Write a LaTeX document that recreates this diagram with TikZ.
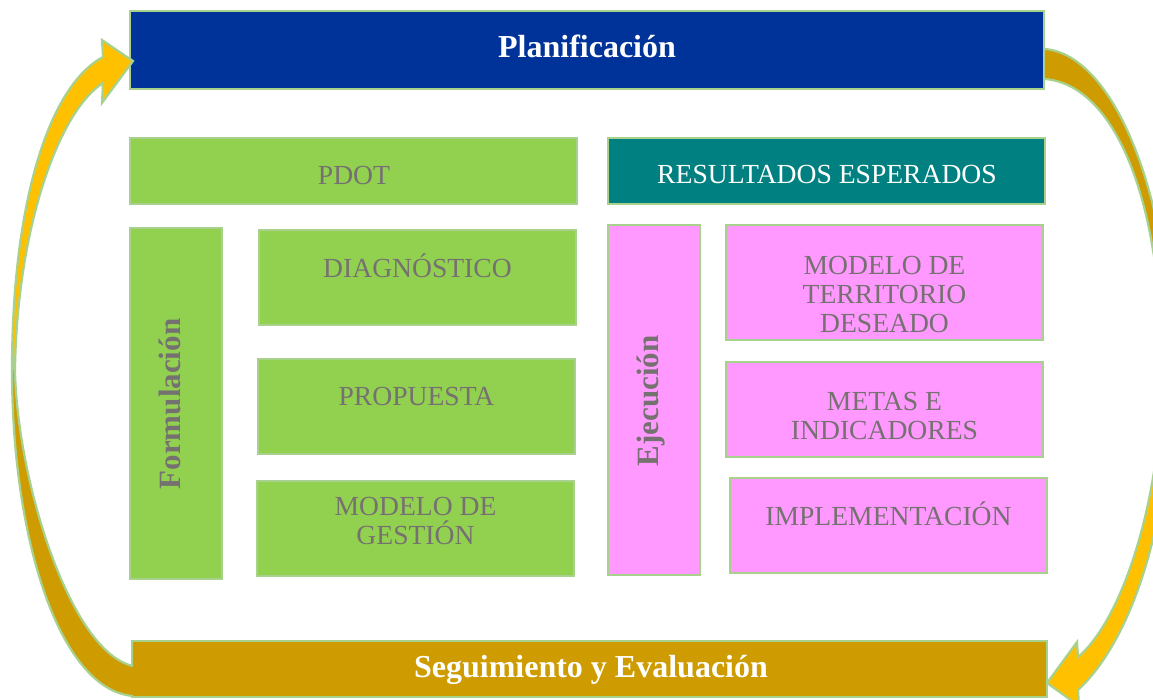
\documentclass[tikz,border=0pt]{standalone}
\usepackage{fontspec}
\setmainfont{Liberation Serif}
\usetikzlibrary{calc}
\definecolor{planblue}{RGB}{0,51,153}
\definecolor{lgreen}{RGB}{146,208,80}
\definecolor{tealbox}{RGB}{0,128,128}
\definecolor{pinkbox}{RGB}{255,153,255}
\definecolor{goldd}{RGB}{206,155,0}
\definecolor{goldb}{RGB}{255,192,0}
\definecolor{edgeg}{RGB}{169,209,142}
\definecolor{txtg}{RGB}{118,113,113}
\tikzset{
  box/.style={draw=edgeg, line width=1.2pt, inner sep=0pt, outer sep=0pt, anchor=north west},
  lbl/.style={text=txtg, inner sep=0pt, align=center, font=\fontsize{27.6}{29}\selectfont},
  wlbl/.style={text=white, inner sep=0pt, align=center, font=\fontsize{27.6}{29}\selectfont},
  blbl/.style={inner sep=0pt, font=\fontsize{32}{34}\selectfont\bfseries},
  vlbl/.style={inner sep=0pt, text=txtg, rotate=90, anchor=base, font=\fontsize{31}{33}\selectfont\bfseries},
  arrowline/.style={draw=edgeg, line width=2.2pt, line join=miter},
}
\begin{document}
\begin{tikzpicture}[x=1pt,y=-1pt]
\useasboundingbox (0,0) rectangle (1153,700);
\clip (0,0) rectangle (1153,700);
\fill[white] (0,0) rectangle (1153,700);

% main boxes
\node[box, fill=planblue, minimum width=914pt, minimum height=78pt] (plan) at (130,11) {};
\node[box, fill=goldd, minimum width=915pt, minimum height=56pt] (seg) at (132,641) {};

\node[box, fill=lgreen, minimum width=447pt, minimum height=66pt] (pdot) at (130,138) {};
\node[box, fill=tealbox, minimum width=437pt, minimum height=66pt] (res) at (608,138) {};

\node[box, fill=lgreen, minimum width=92pt, minimum height=351pt] (form) at (130,228) {};
\node[box, fill=lgreen, minimum width=317pt, minimum height=95pt] (diag) at (259,230) {};
\node[box, fill=lgreen, minimum width=317pt, minimum height=95pt] (prop) at (258,359) {};
\node[box, fill=lgreen, minimum width=317pt, minimum height=95pt] (mges) at (257,481) {};

\node[box, fill=pinkbox, minimum width=92pt, minimum height=350pt] (ejec) at (608,225) {};
\node[box, fill=pinkbox, minimum width=317pt, minimum height=115pt] (mter) at (726,225) {};
\node[box, fill=pinkbox, minimum width=317pt, minimum height=95pt] (metas) at (726,362) {};
\node[box, fill=pinkbox, minimum width=317pt, minimum height=95pt] (impl) at (730,478) {};

% texts
\node[blbl, text=white, anchor=base] (tplan) at (587,58) {Planificación};
\node[blbl, text=white, anchor=base] (tseg) at (591,677) {Seguimiento y Evaluación};
\node[lbl, anchor=base] (tpdot) at (354,185) {PDOT};
\node[wlbl, anchor=base] (tres) at (827,184) {RESULTADOS ESPERADOS};
\node[vlbl] (tform) at (180,404) {Formulación};
\node[vlbl] (tejec) at (658,401) {Ejecución};
\node[lbl, anchor=base] (tdiag) at (417.5,278) {DIAGNÓSTICO};
\node[lbl, anchor=base] (tprop) at (416.5,405) {PROPUESTA};
\node[lbl] (tmges) at (415.5,521) {MODELO DE\\GESTIÓN};
\node[lbl] (tmter) at (884.5,294) {MODELO DE\\TERRITORIO\\DESEADO};
\node[lbl] (tmetas) at (884.5,415.5) {METAS E\\INDICADORES};
\node[lbl, anchor=base] (timpl) at (888.5,525) {IMPLEMENTACIÓN};

% left curved arrow (from Seguimiento up to Planificación)
\fill[goldd] (133,696) .. controls (60,690) and (12,540) .. (12,370)
   -- (15,370) .. controls (17,480) and (70,652) .. (133,666) -- cycle;
\fill[goldb] (12,370) .. controls (12,200) and (50,85) .. (103,57)
   -- (102,40) -- (133,61) -- (102,103) -- (103,83)
   .. controls (58,112) and (17,230) .. (15,370) -- cycle;
\draw[arrowline] (133,696) .. controls (60,690) and (12,540) .. (12,370)
   .. controls (12,200) and (50,85) .. (103,57)
   -- (102,40) -- (133,61) -- (102,103) -- (103,83)
   .. controls (58,112) and (17,230) .. (15,370)
   .. controls (17,480) and (70,652) .. (133,666);

% right curved arrow (from Planificación down to Seguimiento)
\fill[goldd] (1045,49) .. controls (1115,55) and (1172,200) .. (1172,370)
   -- (1162,370) .. controls (1162,200) and (1115,85) .. (1045,79) -- cycle;
\fill[goldb] (1172,370) .. controls (1172,520) and (1132,640) .. (1078,690)
   -- (1079,706) -- (1047,683) -- (1077,642) -- (1078,657)
   .. controls (1122,620) and (1162,500) .. (1162,370) -- cycle;
\draw[arrowline] (1045,79) .. controls (1115,85) and (1162,200) .. (1162,370)
   .. controls (1162,500) and (1122,620) .. (1078,657)
   -- (1077,642) -- (1047,683) -- (1079,706) -- (1078,690)
   .. controls (1132,640) and (1172,520) .. (1172,370)
   .. controls (1172,200) and (1115,55) .. (1045,49);
\end{tikzpicture}
\end{document}
